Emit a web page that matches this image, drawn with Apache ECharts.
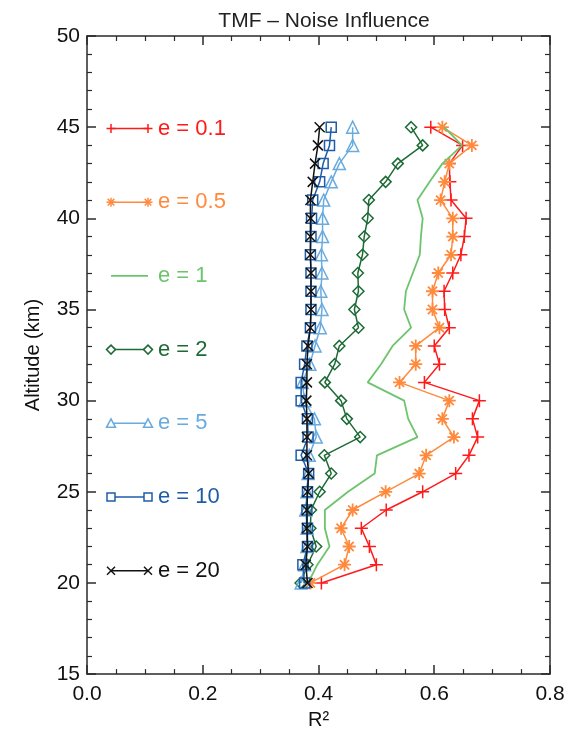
<!DOCTYPE html>
<html>
<head>
<meta charset="utf-8">
<script src="https://cdn.jsdelivr.net/npm/echarts@6/dist/echarts.min.js"></script>
<style>
html, body { margin: 0; padding: 0; background: #fff; }
#main { width: 568px; height: 735px; }
</style>
</head>
<body>
<div id="main"></div>
<script>
// altitude levels (km), bottom to top
var altitude = [20, 21, 22, 23, 24, 25, 26, 27, 28, 29, 30, 31, 32,
                33, 34, 35, 36, 37, 38, 39, 40, 41, 42, 43, 44, 45];

// R^2 for each noise level
var r2_e01 = [0.405, 0.500, 0.488, 0.474, 0.517, 0.580, 0.637, 0.660, 0.675, 0.666, 0.678, 0.583, 0.609,
              0.600, 0.626, 0.618, 0.617, 0.632, 0.646, 0.652, 0.655, 0.629, 0.627, 0.626, 0.649, 0.594];
var r2_e05 = [0.386, 0.445, 0.453, 0.439, 0.459, 0.516, 0.574, 0.586, 0.634, 0.614, 0.626, 0.540, 0.568,
              0.568, 0.609, 0.597, 0.597, 0.607, 0.629, 0.632, 0.632, 0.611, 0.618, 0.626, 0.665, 0.614];
var r2_e1  = [0.382, 0.398, 0.419, 0.411, 0.411, 0.451, 0.497, 0.501, 0.571, 0.555, 0.548, 0.485, 0.508,
              0.528, 0.560, 0.548, 0.551, 0.563, 0.575, 0.577, 0.580, 0.571, 0.592, 0.614, 0.648, 0.617];
var r2_e2  = [0.369, 0.381, 0.396, 0.386, 0.387, 0.402, 0.422, 0.410, 0.472, 0.449, 0.439, 0.411, 0.428,
              0.436, 0.469, 0.462, 0.469, 0.468, 0.476, 0.479, 0.485, 0.487, 0.516, 0.537, 0.580, 0.560];
var r2_e5  = [0.370, 0.376, 0.380, 0.380, 0.378, 0.380, 0.382, 0.384, 0.396, 0.393, 0.376, 0.372, 0.385,
              0.394, 0.403, 0.406, 0.404, 0.406, 0.405, 0.407, 0.407, 0.409, 0.422, 0.436, 0.459, 0.459];
var r2_e10 = [0.376, 0.373, 0.381, 0.381, 0.380, 0.381, 0.383, 0.370, 0.382, 0.381, 0.370, 0.370, 0.376,
              0.380, 0.386, 0.387, 0.387, 0.387, 0.386, 0.387, 0.388, 0.390, 0.402, 0.408, 0.419, 0.422];
var r2_e20 = [0.381, 0.378, 0.381, 0.380, 0.380, 0.381, 0.383, 0.380, 0.380, 0.380, 0.379, 0.380, 0.380,
              0.382, 0.386, 0.387, 0.387, 0.387, 0.386, 0.386, 0.386, 0.386, 0.390, 0.394, 0.399, 0.402];

var seriesNames = ['e = 0.1', 'e = 0.5', 'e = 1', 'e = 2', 'e = 5', 'e = 10', 'e = 20'];

var FONT = "'Liberation Sans', Arial, sans-serif";
var AXIS_COLOR = '#2a2a2a';

// symbol shapes
var PLUS = 'path://M5,0L5,10M0,5L10,5';
var STAR = 'path://M5,0L5,10M0,5L10,5M1.5,1.5L8.5,8.5M8.5,1.5L1.5,8.5';
var CROSS = 'path://M0,0L10,10M10,0L0,10';

var styles = [
    { data: r2_e01, color: '#ff1a1a', symbol: PLUS, size: 13, mark: 'plus' },
    { data: r2_e05, color: '#ff8a3d', symbol: STAR, size: 13, mark: 'star' },
    { data: r2_e1,  color: '#6cc46c', symbol: 'none', size: 0, mark: 'none' },
    { data: r2_e2,  color: '#1c6b35', symbol: 'diamond', size: 11, mark: 'diamond' },
    { data: r2_e5,  color: '#69abdf', symbol: 'triangle', size: 12, mark: 'triangle' },
    { data: r2_e10, color: '#1f5ca8', symbol: 'rect', size: 10, mark: 'square' },
    { data: r2_e20, color: '#111111', symbol: CROSS, size: 10, mark: 'cross' }
];

function pairs(vals) {
    return vals.map(function (v, i) { return [v, altitude[i]]; });
}

var series = styles.map(function (s, k) {
    return {
        name: seriesNames[k],
        type: 'line',
        data: pairs(s.data),
        symbol: s.symbol,
        symbolSize: s.size,
        showSymbol: s.symbol !== 'none',
        lineStyle: { color: s.color, width: k === 2 ? 1.8 : 1.5 },
        itemStyle: { color: 'transparent', borderColor: s.color, borderWidth: k === 1 ? 1.8 : 1.5 },
        emphasis: { disabled: true },
        z: 2 + k
    };
});

function xAxisCfg(pos) {
    return {
        type: 'value', position: pos, min: 0, max: 0.8, interval: 0.2,
        name: pos === 'bottom' ? 'R²' : '',
        nameLocation: 'middle', nameGap: 29,
        nameTextStyle: { fontFamily: FONT, fontSize: 20, color: '#111' },
        axisLine: { onZero: false, lineStyle: { color: AXIS_COLOR, width: 1.5 } },
        axisTick: { inside: true, length: 9, lineStyle: { color: AXIS_COLOR, width: 1.5 } },
        minorTick: { show: true, splitNumber: 4, length: 5, lineStyle: { color: AXIS_COLOR, width: 1.2 } },
        axisLabel: {
            show: pos === 'bottom', fontFamily: FONT, fontSize: 21, color: '#111', margin: 10,
            formatter: function (v) { return v.toFixed(1); }
        },
        splitLine: { show: false }
    };
}

function yAxisCfg(pos) {
    return {
        type: 'value', position: pos, min: 15, max: 50, interval: 5,
        name: pos === 'left' ? 'Altitude (km)' : '',
        nameLocation: 'middle', nameGap: 44,
        nameTextStyle: { fontFamily: FONT, fontSize: 20, color: '#111' },
        axisLine: { onZero: false, lineStyle: { color: AXIS_COLOR, width: 1.5 } },
        axisTick: { inside: true, length: 9, lineStyle: { color: AXIS_COLOR, width: 1.5 } },
        minorTick: { show: true, splitNumber: 5, length: 5, lineStyle: { color: AXIS_COLOR, width: 1.2 } },
        axisLabel: { show: pos === 'left', fontFamily: FONT, fontSize: 21, color: '#111', margin: 7 },
        splitLine: { show: false }
    };
}

// legend drawn as graphic rows: line with a marker at each end, coloured text
function markerEls(kind, cx, cy, color) {
    var s = 4.5, st = { stroke: color, lineWidth: 1.5, fill: 'none' };
    function ln(x1, y1, x2, y2) {
        return { type: 'line', shape: { x1: x1, y1: y1, x2: x2, y2: y2 }, style: st };
    }
    function poly(pts) {
        return { type: 'polygon', shape: { points: pts }, style: { stroke: color, lineWidth: 1.5, fill: '#fff' } };
    }
    switch (kind) {
        case 'plus': return [ln(cx - s, cy, cx + s, cy), ln(cx, cy - s, cx, cy + s)];
        case 'star': return [ln(cx - s, cy, cx + s, cy), ln(cx, cy - s, cx, cy + s),
                             ln(cx - 3.3, cy - 3.3, cx + 3.3, cy + 3.3), ln(cx + 3.3, cy - 3.3, cx - 3.3, cy + 3.3)];
        case 'cross': return [ln(cx - 4, cy - 4, cx + 4, cy + 4), ln(cx + 4, cy - 4, cx - 4, cy + 4)];
        case 'diamond': return [poly([[cx, cy - s], [cx + s, cy], [cx, cy + s], [cx - s, cy]])];
        case 'triangle': return [poly([[cx, cy - s], [cx + s, cy + 4], [cx - s, cy + 4]])];
        case 'square': return [poly([[cx - 4, cy - 4], [cx + 4, cy - 4], [cx + 4, cy + 4], [cx - 4, cy + 4]])];
        default: return [];
    }
}

var legendEls = [];
styles.forEach(function (s, k) {
    var y = 128.5 + k * 73.7;
    var x1 = 111, x2 = 148;
    var kids = [{ type: 'line', shape: { x1: x1, y1: y, x2: x2, y2: y }, style: { stroke: s.color, lineWidth: k === 2 ? 1.8 : 1.5 } }];
    if (s.mark !== 'none') {
        kids = kids.concat(markerEls(s.mark, x1, y, s.color), markerEls(s.mark, x2, y, s.color));
    }
    kids.push({
        type: 'text', x: 158, y: y,
        style: { text: seriesNames[k], fill: s.color, font: '22px ' + FONT, textVerticalAlign: 'middle', verticalAlign: 'middle' }
    });
    legendEls.push({ type: 'group', children: kids });
});

var chart = echarts.init(document.getElementById('main'), null, { renderer: 'canvas' });

var option = {
    animation: false,
    backgroundColor: '#fff',
    title: {
        text: 'TMF – Noise Influence',
        left: 319, top: 6, textAlign: 'center',
        textStyle: { fontFamily: FONT, fontSize: 21, fontWeight: 'normal', color: '#222' }
    },
    grid: { left: 87, right: 18, top: 36, bottom: 55 },
    xAxis: [xAxisCfg('bottom'), xAxisCfg('top')],
    yAxis: [yAxisCfg('left'), yAxisCfg('right')],
    series: series,
    graphic: legendEls
};

chart.setOption(option);
</script>
</body>
</html>
